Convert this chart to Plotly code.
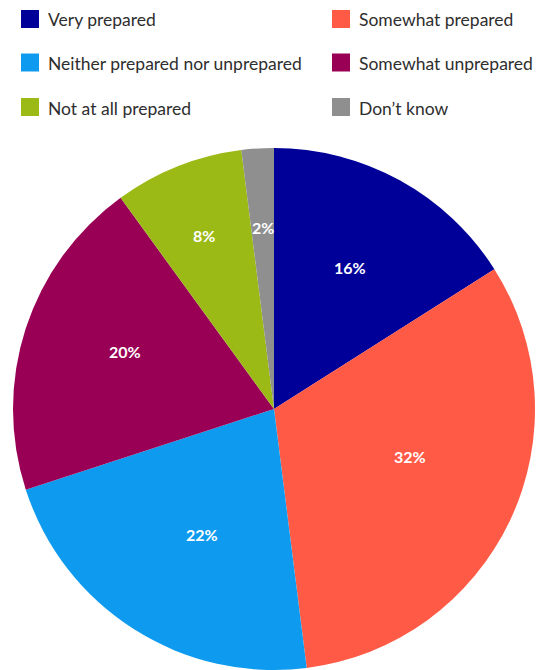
import math
import plotly.graph_objects as go

categories = [
    "Very prepared",
    "Somewhat prepared",
    "Neither prepared nor unprepared",
    "Somewhat unprepared",
    "Not at all prepared",
    "Don\u2019t know",
]
shares = [16, 32, 22, 20, 8, 2]
colors = ["#000099", "#FF5A46", "#0E9BEF", "#990055", "#9BBA16", "#8F8F8F"]

W, H = 549, 670
FONT = "Lato"

# Pie geometry in pixels
CX, CY, R = 274, 409, 261

# Label placement per slice: fraction of radius and small angular nudge (deg)
label_radius = [0.615, 0.551, 0.553, 0.611, 0.718, 0.695]
label_nudge = [-0.7, -6.1, -2.5, 3.3, -0.2, 0.0]

fig = go.Figure()
fig.add_trace(go.Pie(
    labels=categories,
    values=shares,
    sort=False,
    direction="clockwise",
    rotation=0,
    marker=dict(colors=colors, line=dict(width=0)),
    textinfo="none",
    domain=dict(x=[(CX - R) / W, (CX + R) / W], y=[(H - CY - R) / H, (H - CY + R) / H]),
    showlegend=False,
    hoverinfo="label+percent",
))

# Percentage labels at each slice, from the cumulative shares
total = sum(shares)
cum = 0
for v, rf, nd in zip(shares, label_radius, label_nudge):
    mid = (cum + v / 2) / total * 360 + nd
    cum += v
    a = math.radians(mid)
    px = CX + rf * R * math.sin(a)
    py = CY - rf * R * math.cos(a)
    fig.add_annotation(
        x=px / W, y=1 - py / H, xref="paper", yref="paper",
        text=f"{v}%", showarrow=False, xanchor="center", yanchor="middle",
        font=dict(family=FONT, size=16, color="white", weight="bold"),
    )

# Two-column legend built from squares and labels
col_x = [21, 332]
row_y = [19, 62.5, 107]
sq = 18
for i, (name, col) in enumerate(zip(categories, colors)):
    cx = col_x[i % 2]
    cy = row_y[i // 2]
    fig.add_shape(
        type="rect", xref="paper", yref="paper",
        x0=cx / W, x1=(cx + sq) / W,
        y0=1 - (cy + sq / 2) / H, y1=1 - (cy - sq / 2) / H,
        fillcolor=col, line=dict(width=0),
    )
    fig.add_annotation(
        x=(cx + 25) / W, y=1 - (cy + 1) / H, xref="paper", yref="paper",
        text=name, showarrow=False, xanchor="left", yanchor="middle",
        font=dict(family=FONT, size=17.5, color="#2e2e2e"),
    )

fig.update_layout(
    width=W, height=H,
    margin=dict(l=0, r=0, t=0, b=0),
    paper_bgcolor="white",
    plot_bgcolor="white",
)

fig.write_html("out.html")
